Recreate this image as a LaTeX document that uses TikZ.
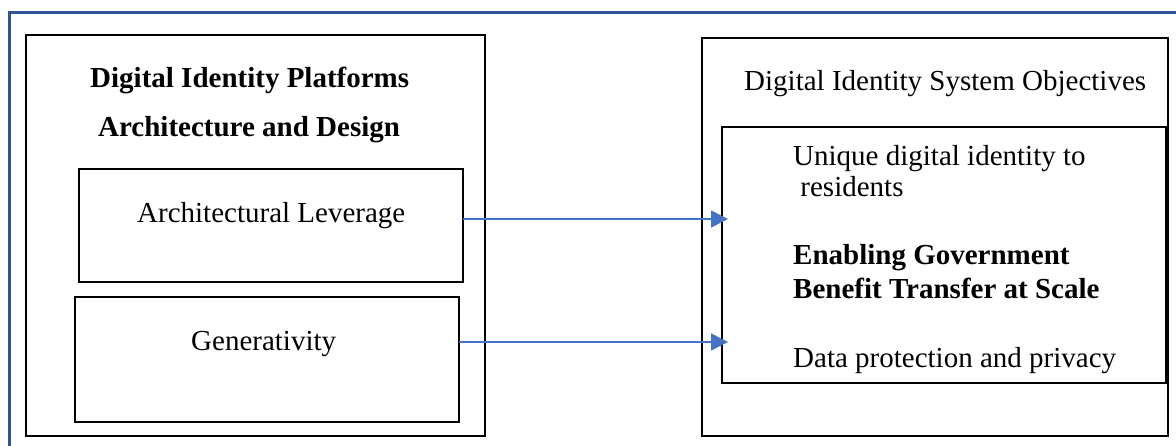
\documentclass[tikz,border=0pt]{standalone}
\usepackage{fontspec}
\setmainfont{Liberation Serif}
\usetikzlibrary{arrows.meta, positioning}
\definecolor{frameblue}{RGB}{47,85,151}
\definecolor{arrowblue}{RGB}{68,114,196}

\begin{document}
\begin{tikzpicture}[x=1pt, y=-1pt,
    panel/.style={draw, line width=1.3pt, anchor=north west, inner sep=0pt, outer sep=0pt},
    label/.style={font=\fontsize{29}{31}\selectfont, anchor=base west, inner sep=0pt, align=left},
    link/.style={-{Triangle[length=17pt, width=17pt]}, draw=arrowblue, fill=arrowblue, line width=1.5pt},
]
\useasboundingbox (0,0) rectangle (1176,446);

% frame
\draw[frameblue, line width=3pt] (9,446) -- (9,13) -- (1176,13);

% left side
\node[panel, minimum width=459, minimum height=401] (design) at (26,35) {};
\node[label, font=\fontsize{29}{31}\selectfont\bfseries] (designtitle) at (90,88) {Digital Identity Platforms};
\node[label, font=\fontsize{29}{31}\selectfont\bfseries] (designsub) at (98,137) {Architecture and Design};
\node[panel, minimum width=384, minimum height=113] (lev) at (79,169) {};
\node[label] (levtext) at (137,223) {Architectural Leverage};
\node[panel, minimum width=384, minimum height=125] (gen) at (75,297) {};
\node[label] (gentext) at (191,351) {Generativity};

% right side
\node[panel, minimum width=466, minimum height=398] (obj) at (702,38) {};
\node[label] (objtitle) at (744,91) {Digital Identity System Objectives};
\node[panel, minimum width=444, minimum height=256] (goals) at (722,127) {};
% two-line labels sit on their last baseline
\node[label] (unique) at (793,197) {Unique digital identity to\\\hspace{0.25em}residents};
\node[label, font=\fontsize{29}{34}\selectfont\bfseries] (benefit) at (793,299) {Enabling Government\\Benefit Transfer at Scale};
\node[label] (privacy) at (793,367) {Data protection and privacy};

% connectors
\coordinate (levtip) at (728,219);
\coordinate (gentip) at (728,342);
\draw[link] (lev.east |- levtip) -- (levtip);
\draw[link] (gen.east |- gentip) -- (gentip);

\end{tikzpicture}
\end{document}
